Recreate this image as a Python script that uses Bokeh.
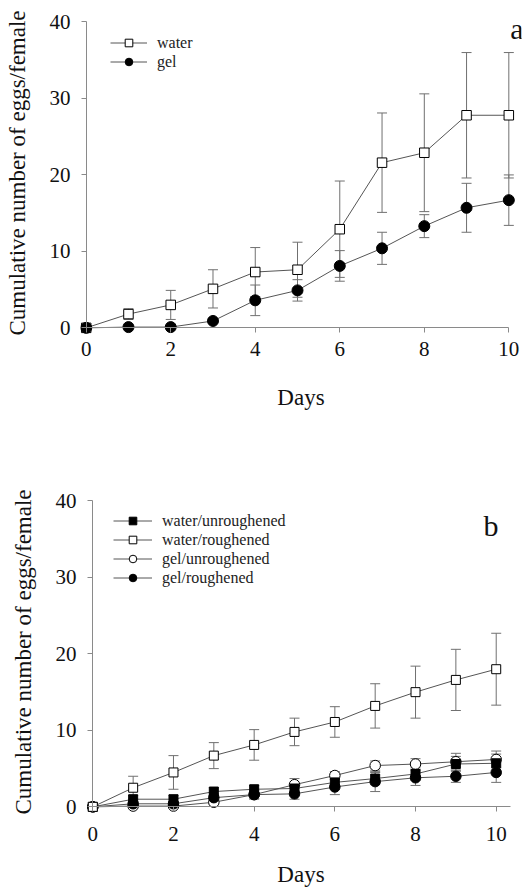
from bokeh.plotting import figure
from bokeh.models import (Range1d, FixedTicker, Whisker, ColumnDataSource, Legend,
                          LegendItem, Label, TeeHead, LinearAxis)
from bokeh.layouts import column
from bokeh.embed import file_html
from bokeh.resources import INLINE

# ---------------- data ----------------
days = [0, 1, 2, 3, 4, 5, 6, 7, 8, 9, 10]
x_ticks = [0, 2, 4, 6, 8, 10]
y_ticks = [0, 10, 20, 30, 40]

# panel a
a_water = [0, 1.8, 3.0, 5.1, 7.3, 7.6, 12.9, 21.6, 22.9, 27.8, 27.8]
a_water_err = [0, 0.7, 1.9, 2.5, 3.2, 3.6, 6.3, 6.5, 7.7, 8.2, 8.2]
a_gel = [0, 0.1, 0.1, 0.9, 3.6, 4.9, 8.1, 10.4, 13.3, 15.7, 16.7]
a_gel_err = [0, 0, 0, 0.3, 2.0, 1.4, 2.0, 2.1, 1.5, 3.2, 3.3]

# panel b
b_water_unrough = [0, 1.0, 1.0, 2.0, 2.3, 2.4, 3.2, 3.7, 4.3, 5.6, 5.7]
b_water_unrough_err = [0, 0.5, 0.5, 0.5, 0.5, 0.6, 0.7, 0.8, 0.8, 1.0, 1.2]
b_water_rough = [0, 2.5, 4.5, 6.7, 8.1, 9.8, 11.1, 13.2, 15.0, 16.6, 18.0]
b_water_rough_err = [0, 1.5, 2.2, 1.7, 2.0, 1.8, 2.0, 2.9, 3.4, 4.0, 4.7]
b_gel_unrough = [0, 0.1, 0.1, 0.6, 1.6, 2.9, 4.1, 5.4, 5.6, 5.9, 6.2]
b_gel_unrough_err = [0, 0.2, 0.2, 0.3, 0.5, 0.8, 0.5, 0.6, 0.7, 1.1, 1.1]
b_gel_rough = [0, 0.4, 0.4, 1.2, 1.6, 1.7, 2.6, 3.3, 3.8, 4.0, 4.5]
b_gel_rough_err = [0, 0.3, 0.3, 0.5, 0.6, 0.7, 1.0, 1.3, 1.0, 0.8, 1.3]

FONT = "Liberation Serif"
TXT = "#111111"
AX = "#8a8a8a"
LINE = "#555555"
ERR = "#707070"


def make_fig(height, top, bottom, x_start, x_end):
    p = figure(width=525, height=height, output_backend="svg", toolbar_location=None,
               x_range=Range1d(x_start, x_end), y_range=Range1d(-1.0, 41.5),
               min_border_left=80, min_border_right=4,
               min_border_top=top, min_border_bottom=bottom)
    p.title.visible = False
    p.grid.visible = False
    p.outline_line_color = None
    p.background_fill_color = "white"
    p.border_fill_color = "white"
    return p


def style_axes(p, xbound, xs1, xs2, ys1, ys2):
    # axis lines and ticks drawn through the origin
    xa = p.xaxis[0]
    ya = p.yaxis[0]
    for ax in (xa, ya):
        ax.fixed_location = 0
        ax.axis_line_color = AX
        ax.axis_line_width = 1
        ax.major_tick_line_color = AX
        ax.minor_tick_line_color = None
        ax.major_tick_in = 0
        ax.major_tick_out = 5
        ax.major_label_text_color = None
        ax.axis_label = None
    xa.bounds = (0, xbound)
    ya.bounds = (0, 40)
    xa.ticker = FixedTicker(ticks=x_ticks)
    ya.ticker = FixedTicker(ticks=y_ticks)

    # label-carrying axes in the side panels
    def lab_axis(ticks, label, s1, s2):
        return LinearAxis(ticker=FixedTicker(ticks=ticks), axis_label=label,
                          axis_line_color=None, major_tick_line_color=None,
                          minor_tick_line_color=None, major_tick_in=0, major_tick_out=0,
                          minor_tick_in=0, minor_tick_out=0,
                          major_label_standoff=s1, axis_label_standoff=s2,
                          major_label_text_font=FONT, major_label_text_font_size="21px",
                          major_label_text_color=TXT,
                          axis_label_text_font=FONT, axis_label_text_font_size="23px",
                          axis_label_text_font_style="normal", axis_label_text_color=TXT)
    p.add_layout(lab_axis(x_ticks, "Days", xs1, xs2), "below")
    p.add_layout(lab_axis(y_ticks, "Cumulative number of eggs/female", ys1, ys2), "left")


def add_err(p, ys, errs):
    xs = [d for d, e in zip(days, errs) if e > 0]
    up = [v + e for v, e in zip(ys, errs) if e > 0]
    lo = [v - e for v, e in zip(ys, errs) if e > 0]
    src = ColumnDataSource(dict(x=xs, upper=up, lower=lo))
    w = Whisker(base="x", upper="upper", lower="lower", source=src,
                line_color=ERR, line_width=1, level="underlay",
                upper_head=TeeHead(size=10, line_color=ERR, line_width=1),
                lower_head=TeeHead(size=10, line_color=ERR, line_width=1))
    p.add_layout(w)


def series(p, ys, marker, fill, size):
    ln = p.line(days, ys, line_color=LINE, line_width=1)
    sc = p.scatter(days, ys, marker=marker, size=size, fill_color=fill,
                   line_color="black", line_width=1)
    return [ln, sc]


def make_legend(items, loc, gw):
    return Legend(items=items, location=loc, border_line_color=None,
                  background_fill_alpha=0, padding=0, margin=0, spacing=0,
                  glyph_width=gw, glyph_height=19, label_height=19,
                  label_standoff=10, label_text_font=FONT,
                  label_text_font_size="16px", label_text_color="#222222")


# ---------------- panel a ----------------
pa = make_fig(440, 10, 105, -0.135, 10.3)
style_axes(pa, 10, 6, 26, 10, 17)
add_err(pa, a_water, a_water_err)
add_err(pa, a_gel, a_gel_err)
ra_w = series(pa, a_water, "square", "white", 9.5)
ra_g = series(pa, a_gel, "circle", "black", 11)
pa.add_layout(make_legend([LegendItem(label="water", renderers=ra_w),
                           LegendItem(label="gel", renderers=ra_g)], (30, 264), 37))
pa.add_layout(Label(x=10.194, y=39.2, text="a", text_font=FONT, text_font_size="30px",
                    text_color=TXT, text_align="center", text_baseline="alphabetic"))

# ---------------- panel b ----------------
pb = make_fig(450, 49, 76, -0.305, 10.627)
style_axes(pb, 10.35, 12, 18, 4, 17)
add_err(pb, b_gel_unrough, b_gel_unrough_err)
add_err(pb, b_water_unrough, b_water_unrough_err)
add_err(pb, b_gel_rough, b_gel_rough_err)
add_err(pb, b_water_rough, b_water_rough_err)
rb_gu = series(pb, b_gel_unrough, "circle", "white", 10.5)
rb_wu = series(pb, b_water_unrough, "square", "black", 9)
rb_gr = series(pb, b_gel_rough, "circle", "black", 10.5)
rb_wr = series(pb, b_water_rough, "square", "white", 9)
pb.add_layout(make_legend([LegendItem(label="water/unroughened", renderers=rb_wu),
                           LegendItem(label="water/roughened", renderers=rb_wr),
                           LegendItem(label="gel/unroughened", renderers=rb_gu),
                           LegendItem(label="gel/roughened", renderers=rb_gr)], (33, 227), 39))
pb.add_layout(Label(x=9.87, y=36.8, text="b", text_font=FONT, text_font_size="30px",
                    text_color=TXT, text_align="center", text_baseline="alphabetic"))

layout = column(pa, pb, spacing=0)
open("out.html", "w").write(file_html(layout, INLINE))
